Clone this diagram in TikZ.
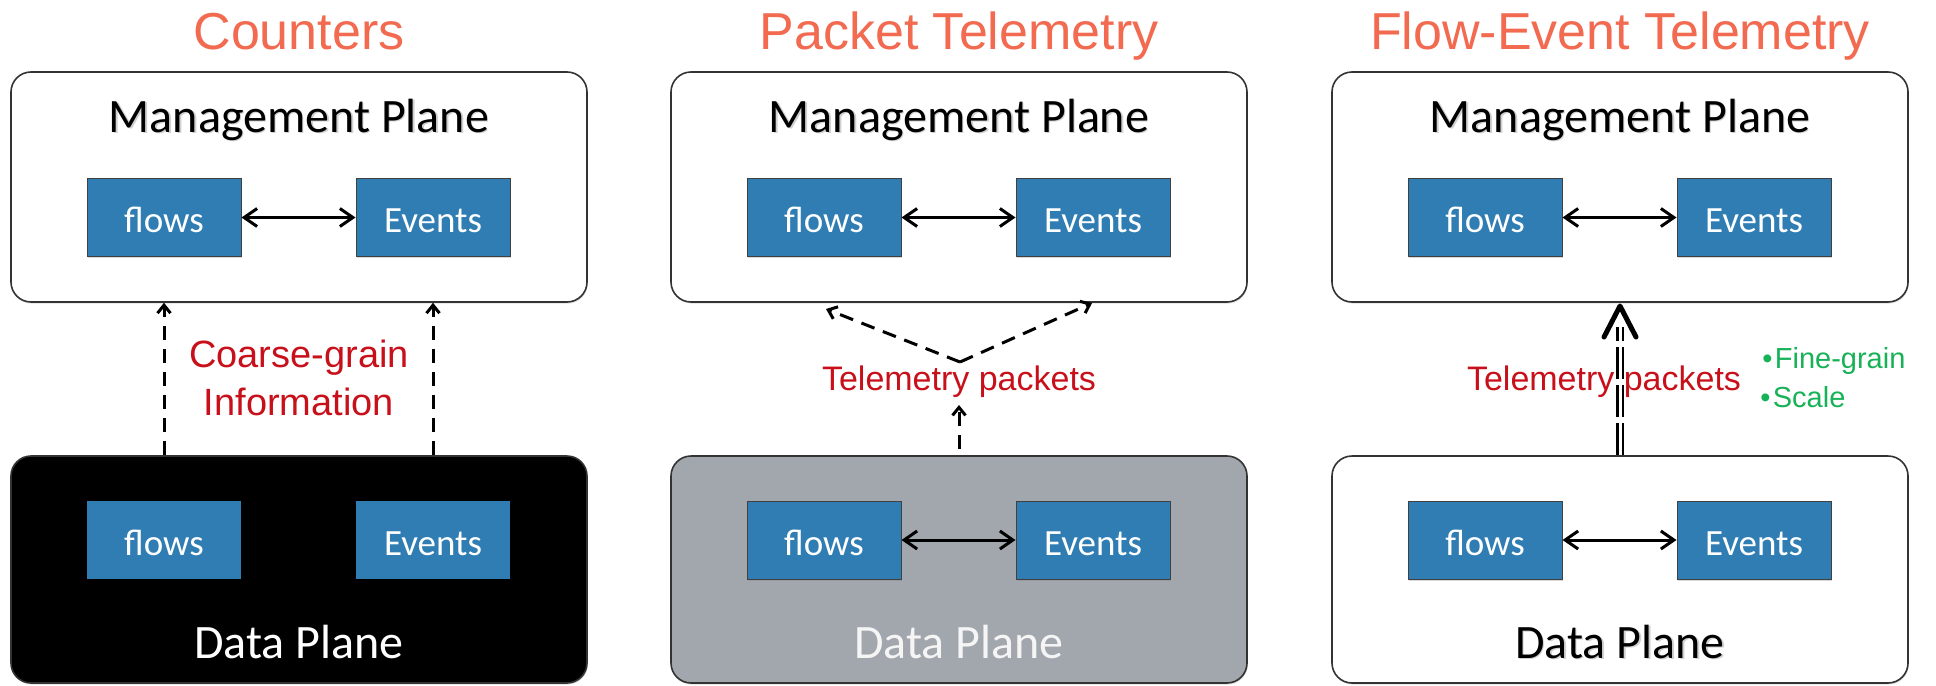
\documentclass[tikz,border=0pt]{standalone}
\usepackage{fontspec}
\setmainfont{Liberation Sans}
\newfontfamily\calfont{Carlito}
\usetikzlibrary{arrows.meta,shadows,calc}
\definecolor{titlec}{HTML}{F26A50}
\definecolor{redc}{HTML}{C8101A}
\definecolor{greenc}{HTML}{17B257}
\definecolor{bluec}{HTML}{2F7DB3}
\definecolor{grayc}{HTML}{A2A6AD}
\tikzset{
  plane/.style={draw=black!80, line width=0.8pt, rounded corners=10pt, minimum width=288pt, inner sep=0pt,
    drop shadow={shadow xshift=0.4pt, shadow yshift=-0.8pt, opacity=0.25}},
  blk/.style={fill=bluec, minimum width=77pt, minimum height=39pt, inner sep=0pt, text=white,
    text height=15pt, text depth=0pt, font=\calfont\fontsize{18.5}{20}\selectfont},
  blkedge/.style={draw=black!75, line width=0.5pt, drop shadow={shadow xshift=0.4pt, shadow yshift=-0.8pt, opacity=0.3}},
  titletxt/.style={text=titlec, font=\fontsize{26}{30}\selectfont, anchor=base, inner sep=0pt},
  lbl/.style={text=redc, anchor=base, inner sep=0pt},
  planetxt/.style={font=\calfont\fontsize{24}{28}\selectfont, anchor=base, inner sep=0pt},
  shadowtxt/.style={planetxt, text=black!18},
  greentxt/.style={text=greenc, anchor=base west, inner sep=0pt, font=\fontsize{14.5}{17}\selectfont},
  biarrow/.style={{Straight Barb[length=6.5pt,width=9pt]}-{Straight Barb[length=6.5pt,width=9pt]}, line width=1.5pt},
  dasharrow/.style={-{Straight Barb[length=4pt,width=6.5pt]}, line width=1.5pt, dash pattern=on 7pt off 4.5pt},
  x=0.5pt, y=-0.5pt
}
\begin{document}
\begin{tikzpicture}
\useasboundingbox (0,0) rectangle (1936,685);

% ---------- Panel 1: Counters ----------
\node[titletxt] (t1) at (299,49) {Counters};
\node[plane, fill=white, minimum height=115pt] (m1) at (299,187) {};
\node[shadowtxt] at (300.5,133.5) {Management Plane};
\node[planetxt] (m1t) at (299,132) {Management Plane};
\node[blk, blkedge] (mf1) at (164,217.5) {flows};
\node[blk, blkedge] (me1) at (433,217.5) {Events};
\draw[biarrow] (mf1) -- (me1);

\node[plane, fill=black, minimum height=113.5pt] (d1) at (299,569.5) {};
\node[planetxt, text=white] (d1t) at (299,658) {Data Plane};
\node[blk] (df1) at (164,540) {flows};
\node[blk] (de1) at (433,540) {Events};

\draw[dasharrow] (df1.north |- d1.north) -- (df1.north |- m1.south);
\draw[dasharrow] (de1.north |- d1.north) -- (de1.north |- m1.south);
\node[lbl, font=\fontsize{19}{22}\selectfont] (c1) at (299,367) {Coarse-grain};
\node[lbl, font=\fontsize{19}{22}\selectfont] (c2) at (299,415) {Information};

% ---------- Panel 2: Packet Telemetry ----------
\node[titletxt] (t2) at (959,49) {Packet Telemetry};
\node[plane, fill=white, minimum height=115pt] (m2) at (959,187) {};
\node[shadowtxt] at (960.5,133.5) {Management Plane};
\node[planetxt] (m2t) at (959,132) {Management Plane};
\node[blk, blkedge] (mf2) at (824,217.5) {flows};
\node[blk, blkedge] (me2) at (1093,217.5) {Events};
\draw[biarrow] (mf2) -- (me2);

\node[plane, fill=grayc, minimum height=113.5pt] (d2) at (959,569.5) {};
\node[planetxt, text=white!96!black] (d2t) at (959,658) {Data Plane};
\node[blk, blkedge] (df2) at (824,540) {flows};
\node[blk, blkedge] (de2) at (1093,540) {Events};
\draw[biarrow] (df2) -- (de2);

\node[lbl, font=\fontsize{17}{20}\selectfont] (tp2) at (959,390) {Telemetry packets};
\coordinate (s2) at (959,449);
\coordinate (e2) at (959,405);
\coordinate (apex) at (960,362);
\coordinate (lt) at (826,309);
\coordinate (rt) at (1092,303);
\draw[dasharrow] (s2) -- (e2);
\draw[dasharrow] (apex) -- (lt);
\draw[dasharrow] (apex) -- (rt);

% ---------- Panel 3: Flow-Event Telemetry ----------
\node[titletxt] (t3) at (1620,49) {Flow-Event Telemetry};
\node[plane, fill=white, minimum height=115pt] (m3) at (1620,187) {};
\node[shadowtxt] at (1621.5,133.5) {Management Plane};
\node[planetxt] (m3t) at (1620,132) {Management Plane};
\node[blk, blkedge] (mf3) at (1485,217.5) {flows};
\node[blk, blkedge] (me3) at (1754,217.5) {Events};
\draw[biarrow] (mf3) -- (me3);

\node[plane, fill=white, minimum height=113.5pt] (d3) at (1620,569.5) {};
\node[shadowtxt] at (1621.5,659.5) {Data Plane};
\node[planetxt] (d3t) at (1620,658) {Data Plane};
\node[blk, blkedge] (df3) at (1485,540) {flows};
\node[blk, blkedge] (de3) at (1754,540) {Events};
\draw[biarrow] (df3) -- (de3);

\node[lbl, font=\fontsize{17}{20}\selectfont] (tp3) at (1604,390) {Telemetry packets};
\coordinate (tip3) at (1620,306);
\coordinate (db3) at (1620,327);
\draw[line width=1.2pt, double=white, double distance=1.5pt, dash pattern=on 16pt off 3pt]
  (d3.north) -- (db3);
\draw[line width=2.5pt, line cap=round, line join=round]
  ($(tip3)+(-16,31)$) -- (tip3) -- ($(tip3)+(16,31)$);

\node[greentxt] (fg) at (1762,368) {\textbullet\hspace{0.08em}Fine-grain};
\node[greentxt] (sc) at (1760,407) {\textbullet\hspace{0.08em}Scale};
\end{tikzpicture}
\end{document}
